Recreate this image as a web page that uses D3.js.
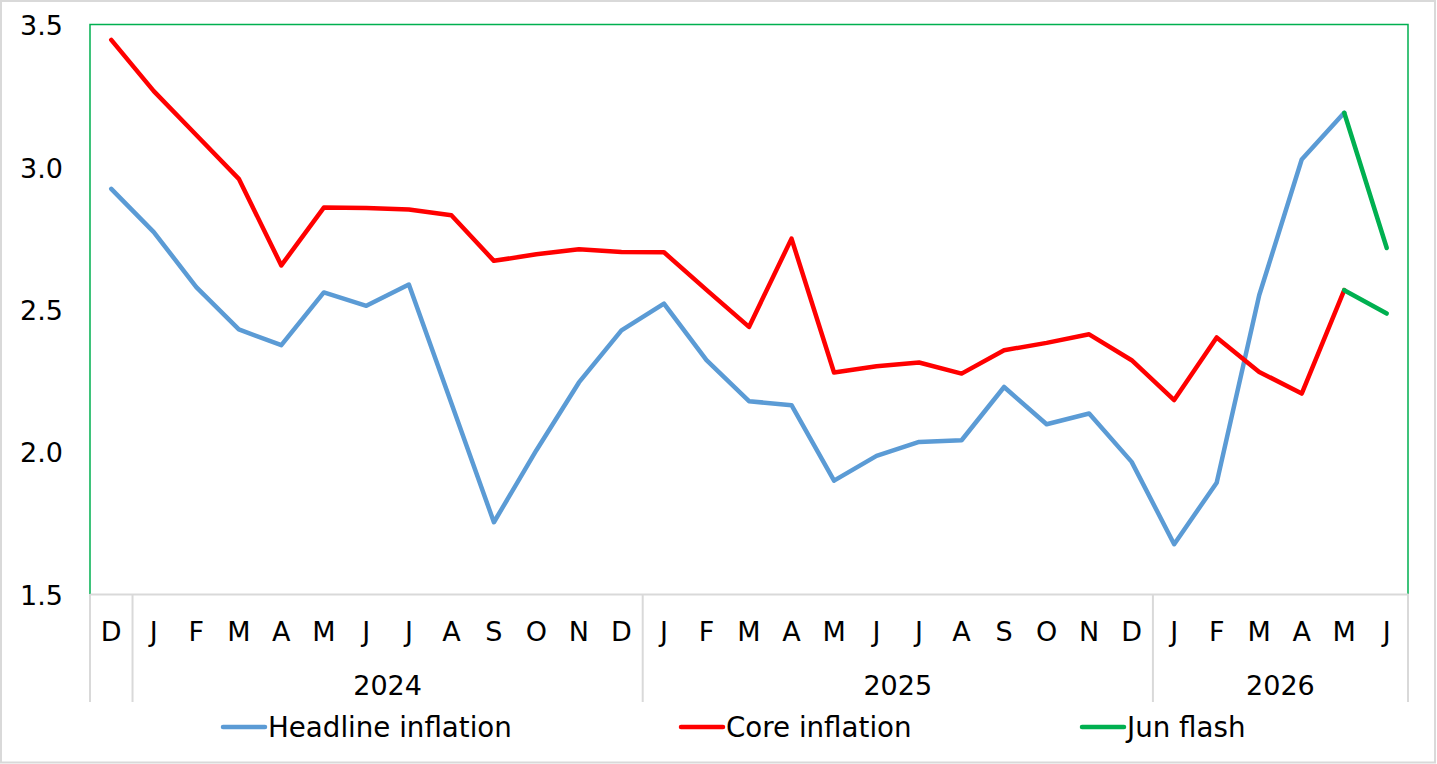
<!DOCTYPE html>
<html>
<head>
<meta charset="utf-8">
<script src="https://cdn.jsdelivr.net/npm/d3@7"></script>
<style>
  body { margin: 0; background: #fff; }
  text { font-family: Verdana, "DejaVu Sans", sans-serif; fill: #000; }
</style>
</head>
<body>
<div id="wrapper"></div>
<script>
const months = ["D","J","F","M","A","M","J","J","A","S","O","N","D",
                "J","F","M","A","M","J","J","A","S","O","N","D",
                "J","F","M","A","M","J"];
const yearLabels = ["2024", "2025", "2026"];
const yearFirst = [1, 13, 25];
const yearLast = [12, 24, 30];

const headline = [2.923, 2.771, 2.578, 2.429, 2.374, 2.559, 2.512, 2.587, 2.17, 1.752,
                  2.005, 2.243, 2.426, 2.52, 2.321, 2.177, 2.163, 1.898, 1.985, 2.034,
                  2.04, 2.227, 2.096, 2.134, 1.964, 1.675, 1.891, 2.549, 3.026, 3.19];
const core = [3.446, 3.266, 3.112, 2.958, 2.654, 2.857, 2.856, 2.85, 2.83, 2.67,
              2.693, 2.711, 2.701, 2.7, 2.568, 2.438, 2.748, 2.278, 2.3, 2.313,
              2.274, 2.356, 2.382, 2.412, 2.321, 2.181, 2.401, 2.28, 2.204, 2.567];
const flashIndex = [29, 30];
const flashHeadline = [3.19, 2.715];
const flashCore = [2.567, 2.485];

const yTicks = [1.5, 2.0, 2.5, 3.0, 3.5];

let dimensions = {
  width: 1437,
  height: 764,
  margin: { top: 24.5, right: 29, bottom: 170, left: 90 },
};
dimensions.boundedWidth = dimensions.width - dimensions.margin.left - dimensions.margin.right;
dimensions.boundedHeight = dimensions.height - dimensions.margin.top - dimensions.margin.bottom;

const svg = d3.select("#wrapper").append("svg")
  .attr("width", dimensions.width)
  .attr("height", dimensions.height);

// outer frame
svg.append("rect")
  .attr("x", 1).attr("y", 1)
  .attr("width", dimensions.width - 3).attr("height", dimensions.height - 2.5)
  .attr("fill", "#fff").attr("stroke", "#d9d9d9").attr("stroke-width", 2);

const bounds = svg.append("g")
  .attr("transform", `translate(${dimensions.margin.left},${dimensions.margin.top})`);

const xScale = d3.scaleBand()
  .domain(d3.range(months.length))
  .range([0, dimensions.boundedWidth]);
const yScale = d3.scaleLinear()
  .domain([1.5, 3.5])
  .range([dimensions.boundedHeight, 0]);
const xCenter = i => xScale(i) + xScale.bandwidth() / 2;

// plot border (green, top/left/right)
bounds.append("path")
  .attr("d", `M0,${dimensions.boundedHeight}V0H${dimensions.boundedWidth}V${dimensions.boundedHeight}`)
  .attr("fill", "none").attr("stroke", "#00b050").attr("stroke-width", 1.5);

// y axis
const yAxis = bounds.append("g")
  .call(d3.axisLeft(yScale).tickValues(yTicks).tickFormat(d3.format(".1f")).tickSize(0).tickPadding(27));
yAxis.select(".domain").remove();
yAxis.selectAll("text").style("font-size", "27px").style("font-family", null).attr("dy", "0.38em");

// x axis (months)
const xAxis = bounds.append("g")
  .attr("transform", `translate(0,${dimensions.boundedHeight})`)
  .call(d3.axisBottom(xScale).tickFormat(i => months[i]).tickSize(0).tickPadding(28));
xAxis.select(".domain").attr("stroke", "#d9d9d9").attr("stroke-width", 2);
xAxis.selectAll("text").style("font-size", "27px").style("font-family", null);

// multi-level separators
const sepIdx = [0].concat(yearFirst, [months.length]);
xAxis.selectAll(".sep")
  .data(sepIdx)
  .join("line")
  .attr("class", "sep")
  .attr("x1", i => i < months.length ? xScale(i) : dimensions.boundedWidth)
  .attr("x2", i => i < months.length ? xScale(i) : dimensions.boundedWidth)
  .attr("y1", 0).attr("y2", 108)
  .attr("stroke", "#d9d9d9").attr("stroke-width", 2);

xAxis.selectAll(".year")
  .data(yearLabels)
  .join("text")
  .attr("class", "year")
  .attr("x", (d, k) => (xScale(yearFirst[k]) + xScale(yearLast[k]) + xScale.bandwidth()) / 2)
  .attr("y", 101)
  .attr("text-anchor", "middle")
  .style("font-size", "27px")
  .text(d => d);

// lines
const lineGenerator = d3.line()
  .x(d => xCenter(d[0]))
  .y(d => yScale(d[1]));

const series = [
  { pts: headline.map((v, i) => [i, v]), color: "#5b9bd5" },
  { pts: core.map((v, i) => [i, v]), color: "#ff0000" },
  { pts: flashIndex.map((i, k) => [i, flashHeadline[k]]), color: "#00b050" },
  { pts: flashIndex.map((i, k) => [i, flashCore[k]]), color: "#00b050" },
];

bounds.selectAll(".line")
  .data(series)
  .join("path")
  .attr("class", "line")
  .attr("d", d => lineGenerator(d.pts))
  .attr("fill", "none")
  .attr("stroke", d => d.color)
  .attr("stroke-width", 4.5)
  .attr("stroke-linejoin", "round")
  .attr("stroke-linecap", "round");

// legend
const legendItems = [
  { name: "Headline inflation", color: "#5b9bd5", x: 223 },
  { name: "Core inflation", color: "#ff0000", x: 681 },
  { name: "Jun flash", color: "#00b050", x: 1082 },
];
const legend = svg.append("g").selectAll("g")
  .data(legendItems)
  .join("g")
  .attr("transform", d => `translate(${d.x},727)`);
legend.append("line")
  .attr("x1", 0).attr("x2", 42)
  .attr("stroke", d => d.color).attr("stroke-width", 4.5).attr("stroke-linecap", "round");
legend.append("text")
  .attr("x", 45).attr("y", 10)
  .style("font-size", "27.7px")
  .text(d => d.name);
</script>
</body>
</html>
